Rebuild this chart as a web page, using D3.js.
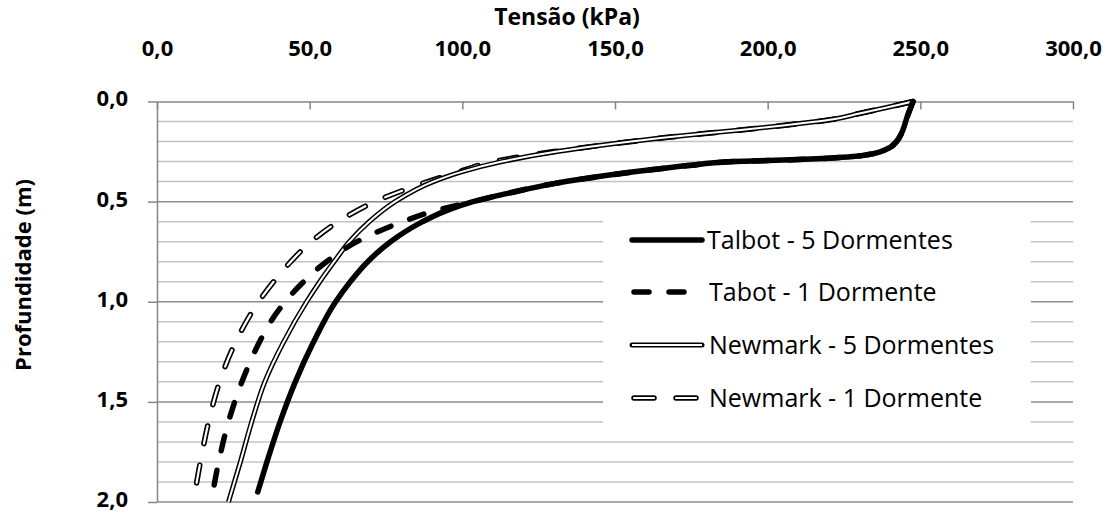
<html lang="pt">
  <head>
    <meta charset="UTF-8" />
    <title>Tensão x Profundidade</title>
    <script src="https://d3js.org/d3.v7.min.js"></script>
  </head>
  <style>
    body { margin: 0; background: #fff; }
    text { font-family: "Open Sans", sans-serif; fill: #000; }
  </style>
  <body>
    <svg></svg>
  </body>
  <footer>
    <script>
      var width = 1111;
      var height = 513;

      // depth (m) / stress (kPa)
      var depthT5 = [0, 0.04, 0.08, 0.12, 0.16, 0.2, 0.23, 0.25, 0.265, 0.275, 0.283, 0.29, 0.3, 0.32, 0.34, 0.37, 0.41, 0.46, 0.5, 0.55, 0.6, 0.7, 0.8, 0.9, 1.0, 1.2, 1.4, 1.6, 1.8, 1.95];
      var stressT5 = [247.6, 246.6, 245.6, 244.8, 243.8, 242.2, 240, 237, 233, 228, 220, 210, 189, 174, 162.5, 147, 130, 114.5, 103.5, 94, 87, 76.5, 69, 63.3, 58.5, 51.3, 45.3, 40.3, 36, 33];

      var depthT1 = [0, 0.04, 0.08, 0.12, 0.16, 0.2, 0.23, 0.25, 0.265, 0.275, 0.283, 0.29, 0.3, 0.32, 0.34, 0.37, 0.41, 0.46, 0.5, 0.55, 0.6, 0.7, 0.8, 0.9, 1.0, 1.1, 1.2, 1.4, 1.6, 1.8, 1.95];
      var stressT1 = [247.6, 246.6, 245.6, 244.8, 243.8, 242.2, 240, 237, 233, 228, 220, 210, 189, 174, 162.5, 147, 130, 114.5, 103.5, 90, 80.5, 65.5, 55.5, 48, 42, 37.2, 33.6, 27.8, 23.4, 20.2, 18.3];

      var depthN5 = [0, 0.03, 0.06, 0.09, 0.1, 0.12, 0.15, 0.18, 0.21, 0.25, 0.3, 0.35, 0.4, 0.5, 0.6, 0.7, 0.8, 0.9, 1.0, 1.2, 1.4, 1.6, 1.8, 2.0];
      var stressN5 = [247.6, 239, 230, 221, 216, 205, 186, 166.5, 150, 131, 113, 100, 90.5, 78, 69.5, 63, 58, 53.3, 49, 41.5, 35.3, 31, 27.3, 23.4];

      var depthN1 = [0, 0.03, 0.06, 0.09, 0.1, 0.12, 0.15, 0.18, 0.21, 0.25, 0.3, 0.36, 0.425, 0.5, 0.6, 0.7, 0.8, 0.9, 1.0, 1.2, 1.4, 1.6, 1.8, 2.0];
      var stressN1 = [247.6, 239, 230, 221, 216, 205, 186, 166.5, 150, 130, 110.5, 97, 84, 71.4, 59.4, 50.5, 43.8, 38.2, 33.3, 25.8, 20.5, 16.9, 14.2, 11.9];

      var seriesNames = ["Talbot - 5 Dormentes", "Tabot - 1 Dormente", "Newmark - 5 Dormentes", "Newmark - 1 Dormente"];
      var xTicks = [0, 50, 100, 150, 200, 250, 300];
      var yTicks = [0, 0.5, 1.0, 1.5, 2.0];

      var comma = function (v) {
        return d3.format(".1f")(v).replace(".", ",");
      };

      var svg = d3.select("svg").attr("width", width).attr("height", height);

      var x = d3.scaleLinear().domain([0, 300]).range([157, 1073]);
      var y = d3.scaleLinear().domain([0, 2]).range([101.5, 502]);

      // horizontal gridlines every 0.1 m
      var grid = d3.range(1, 21).map((i) => i / 10);
      svg
        .append("g")
        .selectAll("line")
        .data(grid)
        .join("line")
        .attr("x1", x(0))
        .attr("x2", x(300))
        .attr("y1", (d) => y(d))
        .attr("y2", (d) => y(d))
        .style("stroke", (d, i) => ((i + 1) % 5 == 0 ? "#8c8c8c" : "#c4c4c4"))
        .style("stroke-width", 1.5);

      // axes
      var xAxis = svg
        .append("g")
        .attr("transform", `translate(0, ${y(0)})`)
        .call(d3.axisTop(x).tickValues(xTicks).tickSizeInner(-8).tickSizeOuter(0).tickFormat(comma));

      var yAxis = svg
        .append("g")
        .attr("transform", `translate(${x(0)}, 0)`)
        .call(d3.axisLeft(y).tickValues(yTicks).tickSizeInner(9).tickSizeOuter(0).tickFormat(comma));

      svg.selectAll(".domain").style("stroke", "#868686").style("stroke-width", 1.5);
      svg.selectAll(".tick line").style("stroke", "#868686").style("stroke-width", 1.5);

      xAxis
        .selectAll("text")
        .attr("y", 56 - y(0))
        .attr("dy", 0)
        .style("font-size", "22px")
        .style("font-weight", "bold");

      yAxis
        .selectAll("text")
        .attr("x", -29)
        .attr("dy", "0.2em")
        .style("font-size", "22px")
        .style("font-weight", "bold");

      svg
        .append("text")
        .attr("x", 567)
        .attr("y", 25)
        .attr("text-anchor", "middle")
        .style("font-size", "23px")
        .style("font-weight", "bold")
        .text("Tensão (kPa)");

      svg
        .append("text")
        .attr("transform", "translate(31, 275) rotate(-90)")
        .attr("text-anchor", "middle")
        .style("font-size", "22px")
        .style("font-weight", "bold")
        .text("Profundidade (m)");

      // curves
      var zip = (ds, vs) => ds.map((d, i) => [vs[i], d]);
      var line = d3
        .line()
        .x((d) => x(d[0]))
        .y((d) => y(d[1]))
        .curve(d3.curveMonotoneY);

      var plot = svg.append("g").style("fill", "none");

      // Newmark - 1 Dormente (outlined dashes)
      var n1 = line(zip(depthN1, stressN1));
      plot.append("path").attr("d", n1).style("stroke", "#000").style("stroke-width", 5.5)
        .style("stroke-linecap", "round").style("stroke-dasharray", "18,22");
      plot.append("path").attr("d", n1).style("stroke", "#fff").style("stroke-width", 2.2)
        .style("stroke-linecap", "round").style("stroke-dasharray", "18,22");

      // Newmark - 5 Dormentes (double line)
      var n5 = line(zip(depthN5, stressN5));
      plot.append("path").attr("d", n5).style("stroke", "#000").style("stroke-width", 5);
      plot.append("path").attr("d", n5).style("stroke", "#fff").style("stroke-width", 2);

      // Tabot - 1 Dormente (thick dashes)
      plot.append("path").attr("d", line(zip(depthT1, stressT1))).style("stroke", "#000")
        .style("stroke-width", 5.5).style("stroke-linecap", "round").style("stroke-dasharray", "15,20");

      // Talbot - 5 Dormentes (thick solid)
      plot.append("path").attr("d", line(zip(depthT5, stressT5))).style("stroke", "#000")
        .style("stroke-width", 5.5).style("stroke-linecap", "round");

      // legend
      var legend = svg.append("g");
      legend.append("rect").attr("x", 603).attr("y", 208).attr("width", 428).attr("height", 224).style("fill", "#fff");

      var rowY = [240, 292, 345, 398];
      var lx1 = 632, lx2 = 702;
      var row = legend.selectAll("g.row").data(seriesNames).join("g").attr("class", "row")
        .attr("transform", (d, i) => `translate(0, ${rowY[i]})`);

      row.filter((d, i) => i == 0).append("line").attr("x1", lx1).attr("x2", lx2)
        .style("stroke", "#000").style("stroke-width", 5.5).style("stroke-linecap", "round");
      row.filter((d, i) => i == 1).append("line").attr("x1", lx1 + 2).attr("x2", lx2)
        .style("stroke", "#000").style("stroke-width", 5.5).style("stroke-linecap", "round").style("stroke-dasharray", "15,20");
      row.filter((d, i) => i == 2).append("line").attr("x1", lx1).attr("x2", lx2)
        .style("stroke", "#000").style("stroke-width", 5).style("stroke-linecap", "round");
      row.filter((d, i) => i == 2).append("line").attr("x1", lx1).attr("x2", lx2)
        .style("stroke", "#fff").style("stroke-width", 2);
      row.filter((d, i) => i == 3).append("line").attr("x1", lx1 + 2).attr("x2", lx2 + 2)
        .style("stroke", "#000").style("stroke-width", 5.5).style("stroke-linecap", "round").style("stroke-dasharray", "20,22");
      row.filter((d, i) => i == 3).append("line").attr("x1", lx1 + 2).attr("x2", lx2 + 2)
        .style("stroke", "#fff").style("stroke-width", 2.2).style("stroke-linecap", "round").style("stroke-dasharray", "20,22");

      row.append("text")
        .attr("x", (d, i) => (i == 0 ? 707 : 709))
        .attr("dy", "0.36em")
        .style("font-size", "25px")
        .text((d) => d);
    </script>
  </footer>
</html>
